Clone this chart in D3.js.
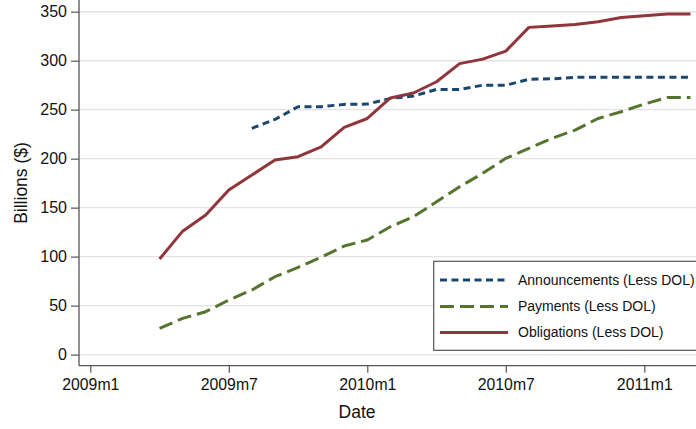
<!DOCTYPE html>
<html>
<head>
<meta charset="utf-8">
<script src="https://cdn.jsdelivr.net/npm/d3@7"></script>
<style>
  html, body { margin: 0; padding: 0; background: #fff; }
  svg { display: block; font-family: "Liberation Sans", Arial, Helvetica, sans-serif; }
</style>
</head>
<body>
<svg id="chart" width="696" height="429"></svg>
<script>
// ---- Data ----
const monthsAll = ["2009m4","2009m5","2009m6","2009m7","2009m8","2009m9","2009m10","2009m11","2009m12",
  "2010m1","2010m2","2010m3","2010m4","2010m5","2010m6","2010m7","2010m8","2010m9","2010m10","2010m11","2010m12",
  "2011m1","2011m2","2011m3"];
const obligations = [97.5, 126, 142.4, 168, 183.3, 198.6, 202, 212, 232, 241, 262, 267, 278.5, 297, 301.6, 309.8,
  334, 335.3, 337, 339.7, 344, 345.8, 347.6, 347.6];
const payments = [26.8, 37, 43.8, 55.7, 65.9, 79.5, 89, 99.3, 110.8, 117, 130.5, 140.7, 156, 171.3, 185, 200.3,
  210.5, 220.7, 229.2, 241, 247.9, 255.7, 262.5, 262.5];
const monthsAnn = monthsAll.slice(4); // 2009m8 .. 2011m3
const announcements = [231, 240, 253, 253, 255.4, 255.7, 261.5, 263.9, 270.7, 270.7, 275, 275, 281, 281.5,
  283, 283, 283, 283, 283, 283];
const xTickLabels = ["2009m1","2009m7","2010m1","2010m7","2011m1"];
const yTicks = [0, 50, 100, 150, 200, 250, 300, 350];
const legendLabels = ["Announcements (Less DOL)", "Payments (Less DOL)", "Obligations (Less DOL)"];

// ---- helpers ----
const monthIndex = s => { const [y, m] = s.split("m").map(Number); return (y - 2009) * 12 + (m - 1); };

const svg = d3.select("#chart");
const axisX = 79, axisY = 365.7;

const x = d3.scaleLinear().domain([0, 24]).range([90.3, 644.3]);
const y = d3.scaleLinear().domain([0, 350]).range([354.6, 11.7]);

// grid lines
svg.append("g").selectAll("line").data(yTicks).join("line")
  .attr("x1", axisX).attr("x2", 696)
  .attr("y1", d => y(d)).attr("y2", d => y(d))
  .attr("stroke", "#e2e2e2").attr("stroke-width", 1.4);

// y axis
const gy = svg.append("g").attr("transform", `translate(${axisX},0)`)
  .call(d3.axisLeft(y).tickValues(yTicks).tickSize(8).tickPadding(4).tickSizeOuter(0));
gy.select(".domain").remove();
gy.selectAll(".tick line").attr("stroke", "#555").attr("stroke-width", 1.2);
gy.selectAll(".tick text").attr("font-size", 16).attr("fill", "#111")
  .attr("font-family", "Liberation Sans, Arial, sans-serif");

// x axis
const gx = svg.append("g").attr("transform", `translate(0,${axisY})`)
  .call(d3.axisBottom(x).tickValues(xTickLabels.map(monthIndex)).tickFormat((d, i) => xTickLabels[i])
    .tickSize(7).tickPadding(6).tickSizeOuter(0));
gx.select(".domain").remove();
gx.selectAll(".tick line").attr("stroke", "#555").attr("stroke-width", 1.2);
gx.selectAll(".tick text").attr("font-size", 15.8).attr("fill", "#111")
  .attr("font-family", "Liberation Sans, Arial, sans-serif");

// axis lines
svg.append("line").attr("x1", axisX).attr("x2", axisX).attr("y1", 0).attr("y2", axisY)
  .attr("stroke", "#555").attr("stroke-width", 1.3);
svg.append("line").attr("x1", axisX).attr("x2", 696).attr("y1", axisY).attr("y2", axisY)
  .attr("stroke", "#555").attr("stroke-width", 1.3);

// series
const line = d3.line().x(d => x(d.m)).y(d => y(d.v));
const series = [
  { months: monthsAnn, values: announcements, color: "#1a476f", dash: "7,4.5" },
  { months: monthsAll, values: payments, color: "#55752f", dash: "14,6" },
  { months: monthsAll, values: obligations, color: "#90353b", dash: null }
];
series.forEach(s => {
  const pts = s.values.map((v, i) => ({ m: monthIndex(s.months[i]), v }));
  svg.append("path").datum(pts).attr("d", line)
    .attr("fill", "none").attr("stroke", s.color).attr("stroke-width", 3)
    .attr("stroke-linejoin", "round")
    .attr("stroke-dasharray", s.dash);
});

// axis titles
svg.append("text").attr("x", 357).attr("y", 418).attr("text-anchor", "middle")
  .attr("font-size", 17.5).attr("fill", "#111").text("Date");
svg.append("text").attr("transform", "translate(27,183) rotate(-90)").attr("text-anchor", "middle")
  .attr("font-size", 17.5).attr("fill", "#111").text("Billions ($)");

// legend
const lg = svg.append("g");
lg.append("rect").attr("x", 433.7).attr("y", 261.3).attr("width", 300).attr("height", 89)
  .attr("fill", "#fff").attr("stroke", "#555").attr("stroke-width", 1.2);
const rowsY = [280, 306.5, 332.5];
series.forEach((s, i) => {
  lg.append("line").attr("x1", 440).attr("x2", 508).attr("y1", rowsY[i]).attr("y2", rowsY[i])
    .attr("stroke", s.color).attr("stroke-width", 3).attr("stroke-dasharray", s.dash);
  lg.append("text").attr("x", 518).attr("y", rowsY[i]).attr("dy", "0.35em")
    .attr("font-size", 14).attr("fill", "#111").text(legendLabels[i]);
});
</script>
</body>
</html>
